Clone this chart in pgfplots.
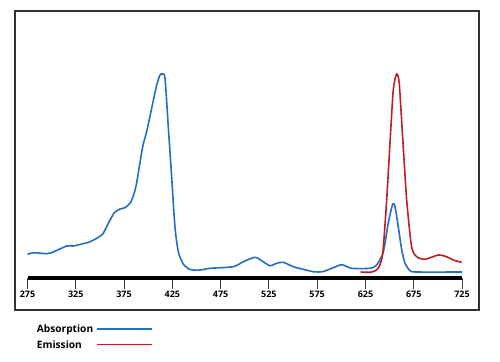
\documentclass[border=0pt]{standalone}
\usepackage{fontspec}
\setmainfont{Open Sans}
\usepackage{pgfplots}
\pgfplotsset{compat=1.18}
\definecolor{absblue}{RGB}{38,110,190}
\definecolor{emred}{RGB}{190,32,40}
\definecolor{framegray}{RGB}{50,50,50}
\begin{document}
\begin{tikzpicture}
\useasboundingbox (0,0) rectangle (500bp,-362bp);
\draw[framegray, line width=1.3bp] (15bp,-11bp) rectangle (479bp,-310bp);
\begin{axis}[
  at={(27.5bp,-278bp)}, anchor=south west,
  scale only axis, width=434.5bp, height=267bp,
  xmin=275, xmax=725, ymin=0, ymax=267,
  axis x line*=bottom, axis y line=none,
  x axis line style={line width=4.7bp, -},
  xtick={275,325,...,725},
  tick align=outside, major tick length=11bp,
  tick style={black!75, line width=0.9bp},
  xticklabel style={font=\bfseries\fontsize{9}{10}\selectfont, inner sep=1.5bp},
  /pgf/number format/assume math mode=true,
  clip=false,
]
\addplot[absblue, line width=1.6bp, smooth, tension=0.4] coordinates {
(275,23.7)(281,25.3)(295,24.3)(300,25.3)(315.6,32)(322.4,32)(338,35.7)(344.9,38.7)
(352.9,44)(358.7,54.7)(364.9,65.3)(370.8,69)(376,70.3)(382.2,76.3)(387.4,92)
(394.3,131.3)(398.4,146.3)(403.6,169.7)(408.8,193)(412.2,203)(414.6,204)(417.4,199.7)
(420.8,151.3)(424.3,101.3)(427.7,51.3)(431.2,26.3)(436.3,14)(443.3,8.5)(453.6,8)
(464,9.7)(488.1,11.3)(498.5,16.3)(510.6,20.7)(517.5,17.3)(526.1,12.3)(533.1,14.7)
(539.9,15.7)(550.3,11.3)(560.6,8.7)(571,6.3)(580.7,6.3)(591.7,10.3)(600.4,13.3)
(610.7,9.7)(629.7,9.7)(636.6,13)(643.5,26)(648.6,54.7)(653.2,74)(655.6,71.3)
(659,51.3)(662.6,28)(666,14.7)(671.2,7.3)(678,6)(725,6)
};
\addplot[emred, line width=1.6bp, smooth, tension=0.4] coordinates {
(620.1,6)(631.5,6)(638.3,9.7)(642.9,24.7)(647,78)(650.4,134.7)(653.8,188)(657.3,204)
(660,194.7)(663.5,141.3)(667.7,78)(672.8,31.3)(678,21.3)(686.6,18.7)(700.4,23)
(709.1,21.3)(716,18)(724.7,15.7)
};
\end{axis}
\node[anchor=base west, inner sep=0, font=\bfseries\fontsize{10.2}{12}\selectfont] at (36.7bp,-332.5bp) {Absorption};
\node[anchor=base west, inner sep=0, font=\bfseries\fontsize{10.2}{12}\selectfont] at (36.7bp,-348bp) {Emission};
\draw[absblue, line width=1.6bp] (96.7bp,-329bp) -- (152.3bp,-329bp);
\draw[emred, line width=1.6bp] (96.7bp,-344.3bp) -- (152.3bp,-344.3bp);
\end{tikzpicture}
\end{document}
